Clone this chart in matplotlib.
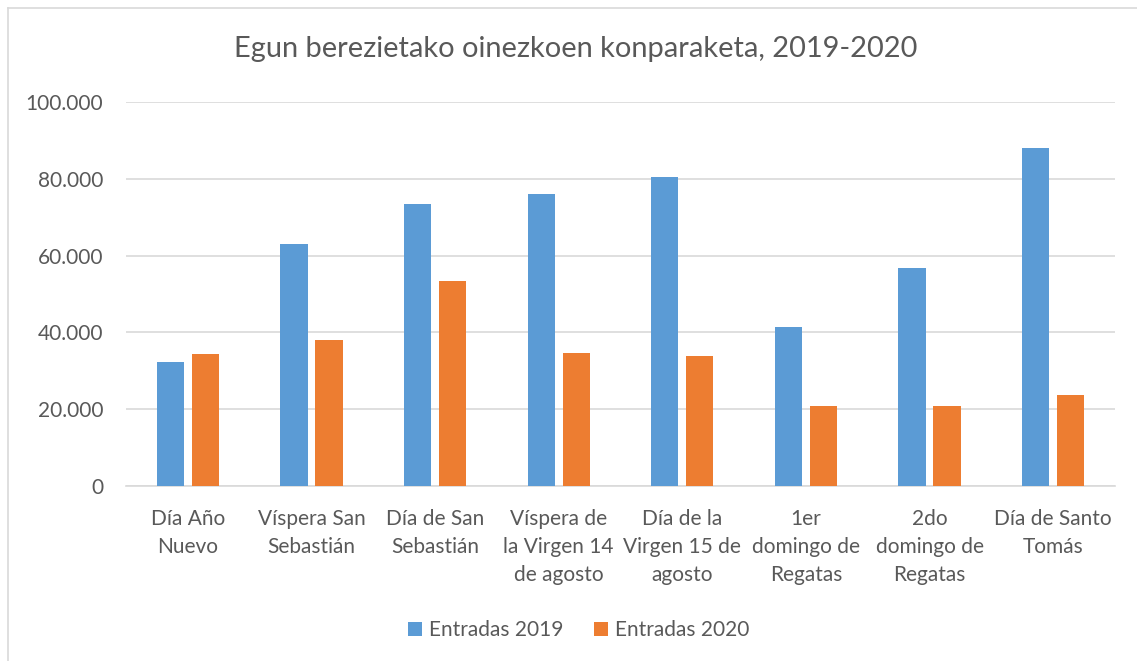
import matplotlib
matplotlib.use("Agg")
import matplotlib.pyplot as plt
from matplotlib.lines import Line2D
from matplotlib.patches import Patch
import numpy as np

# ---- data ----
categories = [
    "Día Año\nNuevo",
    "Víspera San\nSebastián",
    "Día de San\nSebastián",
    "Víspera de\nla Virgen 14\nde agosto",
    "Día de la\nVirgen 15 de\nagosto",
    "1er\ndomingo de\nRegatas",
    "2do\ndomingo de\nRegatas",
    "Día de Santo\nTomás",
]
entradas_2019 = [32200, 62900, 73300, 75900, 80400, 41300, 56800, 87900]
entradas_2020 = [34300, 38000, 53500, 34700, 34000, 20800, 20800, 23700]
series_names = ["Entradas 2019", "Entradas 2020"]
yticks = [0, 20000, 40000, 60000, 80000, 100000]
ytick_labels = ["0", "20.000", "40.000", "60.000", "80.000", "100.000"]
title = "Egun berezietako oinezkoen konparaketa, 2019-2020"

# ---- style ----
plt.rcParams['font.family'] = ['Lato', 'DejaVu Sans']
BLUE = "#5B9BD5"
ORANGE = "#ED7D31"
TXT = "#595959"
GRID = "#D9D9D9"

W, H = 1137, 661
fig = plt.figure(figsize=(W / 100, H / 100), dpi=100)
fig.patch.set_facecolor("white")

ax = fig.add_axes([126 / W, 1 - 486.3 / H, (1115 - 126) / W, (486.3 - 101.7) / H])
x = np.arange(len(categories))
bw = 0.221
off = 0.1416
ax.bar(x - off, entradas_2019, width=bw, color=BLUE, label=series_names[0], zorder=3)
ax.bar(x + off, entradas_2020, width=bw, color=ORANGE, label=series_names[1], zorder=3)

ax.set_xlim(-0.5, len(categories) - 0.5)
ax.set_ylim(0, 100000)
ax.set_yticks(yticks)
ax.set_yticklabels(ytick_labels)
ax.set_xticks(x)
ax.set_xticklabels(categories, linespacing=1.48)
ax.tick_params(axis='y', length=0, pad=16.5, labelsize=15, labelcolor=TXT)
ax.tick_params(axis='x', length=0, pad=16.5, labelsize=15, labelcolor=TXT)
ax.grid(axis='y', color=GRID, linewidth=1.2, zorder=0)
for s in ["top", "right", "left"]:
    ax.spines[s].set_visible(False)
ax.spines["bottom"].set_color(GRID)
ax.spines["bottom"].set_linewidth(1.2)
ax.set_facecolor("white")

fig.text(576 / W, 1 - 49 / H, title, ha='center', va='center', fontsize=20.9, color=TXT)

handles = [Patch(facecolor=BLUE, edgecolor='none'), Patch(facecolor=ORANGE, edgecolor='none')]
fig.legend(handles, series_names, loc='center', bbox_to_anchor=(578.7 / W, 1 - 630 / H),
           ncol=2, frameon=False, fontsize=15, labelcolor=TXT,
           handlelength=0.67, handleheight=0.67, handletextpad=0.3, columnspacing=1.5)

# chart-area border (left and top visible)
fig.add_artist(Line2D([7.5 / W, 1.0], [1 - 7.5 / H, 1 - 7.5 / H], transform=fig.transFigure,
                      color=GRID, linewidth=1.2))
fig.add_artist(Line2D([7.5 / W, 7.5 / W], [0.0, 1 - 7.5 / H], transform=fig.transFigure,
                      color=GRID, linewidth=1.2))

fig.savefig("out.png", dpi=100, facecolor="white")
